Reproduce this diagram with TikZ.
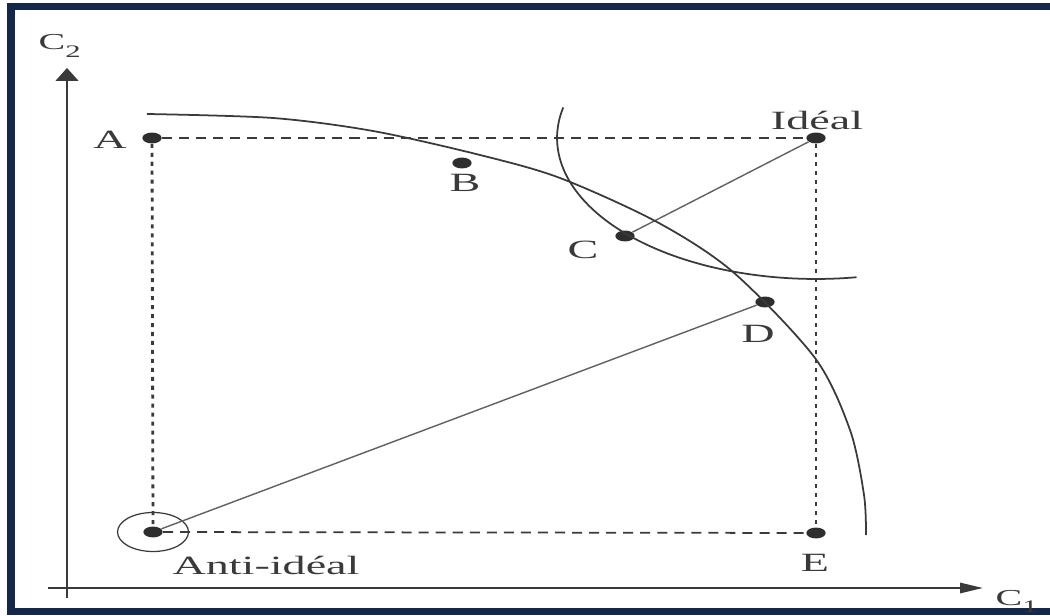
\documentclass[tikz,border=0pt]{standalone}
\usepackage{fontspec}
\setmainfont{Liberation Serif}
\usepackage{tikz}
\usetikzlibrary{arrows.meta, shapes.geometric}

\definecolor{framenavy}{HTML}{13284A}
\definecolor{ink}{HTML}{3A3A3A}

\begin{document}
\begin{tikzpicture}[
    x=0.02cm, y=0.02cm,
    axis/.style={line width=1.2pt,ink},
    dot/.style={ellipse,fill=ink!80!black,minimum width=11pt,minimum height=6.2pt,inner sep=0pt},
    ring/.style={ellipse,draw=ink,line width=0.7pt,minimum width=1.42cm,minimum height=0.78cm,inner sep=0pt},
    lbl/.style={font=\fontsize{15}{17}\selectfont,text=ink,xscale=1.75,inner sep=0pt},
    axlbl/.style={font=\fontsize{13}{15}\selectfont,text=ink,xscale=1.75,inner sep=0pt,anchor=base west},
    hdash/.style={ink,line width=1pt,dash pattern=on 5.7pt off 4pt},
    vdot/.style={ink,line width=1.6pt,dash pattern=on 2.3pt off 2.8pt},
    link/.style={ink!80,line width=0.8pt},
    curve/.style={ink,line width=1pt}
]
\useasboundingbox (0,0) rectangle (1050,615);

%--------------------------------------------------------------------
% Frame
%--------------------------------------------------------------------
\fill[white] (0,0) rectangle (1050,615);
\fill[framenavy] (7,0) rectangle (1050,612);
\fill[white] (15,7) rectangle (1050,605);

%--------------------------------------------------------------------
% Axes
%--------------------------------------------------------------------
\coordinate (ybot)   at (67,17);
\coordinate (ytop)   at (67,547);
\coordinate (xleft)  at (48,27);
\coordinate (xright) at (983,27);

\draw[axis,-{Triangle[length=7.4pt,width=13pt]}] (ybot) -- (ytop);
\draw[axis,-{Triangle[length=13pt,width=5.8pt]}] (xleft) -- (xright);

\node[axlbl] (c2) at (38,565) {C\raisebox{-4.5pt}{\fontsize{10}{12}\selectfont 2}};
\node[axlbl] (c1) at (995,10) {C\raisebox{-4.5pt}{\fontsize{10}{12}\selectfont 1}};

%--------------------------------------------------------------------
% Points
%--------------------------------------------------------------------
\node[dot] (a)     at (152,477) {};
\node[dot] (ideal) at (816,477) {};
\node[dot] (b)     at (462,452) {};
\node[dot] (c)     at (625,379) {};
\node[dot] (d)     at (765,313) {};
\node[dot] (e)     at (816,82)  {};
\node[dot] (anti)  at (153,83)  {};
\node[ring] (antiring) at (anti) {};

% Dashed box
\draw[hdash] (a) -- (ideal);
\draw[hdash] (anti) -- (e);
\draw[vdot]  (a) -- (anti);
\draw[vdot]  (ideal) -- (e);

% Distances
\draw[link] (ideal) -- (c);
\draw[link] (anti) -- (d);

%--------------------------------------------------------------------
% Curves
%--------------------------------------------------------------------
\draw[curve] plot[smooth,tension=0.5] coordinates {
    (147,501) (273,497) (373,484) (480,460) (560,437) (657,393)
    (733,343) (815,257) (850,185) (864,120) (866,80)};

\draw[curve] ([shift={(167.5:5.18cm and 2.82cm)}]ideal.center)
    arc[start angle=167.5,end angle=279,x radius=5.18cm,y radius=2.82cm];

%--------------------------------------------------------------------
% Labels
%--------------------------------------------------------------------
\node[lbl] (la)     at (110,475) {A};
\node[lbl] (lideal) at (817,495) {Idéal};
\node[lbl] (lb)     at (465,432) {B};
\node[lbl] (lc)     at (583,365) {C};
\node[lbl] (ld)     at (758,281) {D};
\node[lbl] (le)     at (815,52)  {E};
\node[lbl] (lanti)  at (266,50)  {Anti-idéal};

\end{tikzpicture}
\end{document}
